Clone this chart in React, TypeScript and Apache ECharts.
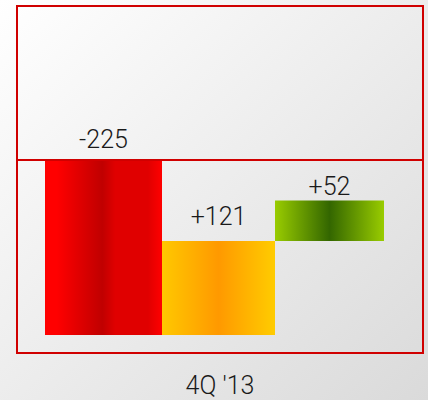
import React, { useEffect, useRef } from "react";
import * as echarts from "echarts";

const categories = ["4Q '13"];
const startLevel = 225;
const changes = [-225, 121, 52];
const changeLabels = ["-225", "+121", "+52"];

const FONT = "Roboto, 'Liberation Sans', sans-serif";

function grad(c0: string, c1: string, c2: string, c3?: string) {
  const stops = c3
    ? [
        { offset: 0, color: c0 },
        { offset: 0.1, color: c0 },
        { offset: 0.49, color: c1 },
        { offset: 0.6, color: c2 },
        { offset: 0.88, color: c2 },
        { offset: 1, color: c3 },
      ]
    : [
        { offset: 0, color: c0 },
        { offset: 0.5, color: c1 },
        { offset: 1, color: c2 },
      ];
  return new echarts.graphic.LinearGradient(0, 0, 1, 0, stops);
}

export default function App() {
  const ref = useRef<HTMLDivElement>(null);
  useEffect(() => {
    if (!ref.current) return;
    const chart = echarts.init(ref.current, undefined, { renderer: "svg" });

    let level = startLevel;
    const bases: number[] = [];
    const heights: number[] = [];
    changes.forEach((c) => {
      const next = level + c;
      bases.push(Math.min(level, next));
      heights.push(Math.abs(c));
      level = next;
    });

    const colors = [
      grad("#ff0000", "#c00000", "#e00000", "#ff0000"),
      grad("#ffc800", "#ff9900", "#ffcc00"),
      grad("#99cc00", "#336600", "#99cc00"),
    ];
    const widths = [117, 113, 109];
    const labelDist = [8, 12, 2];

    const series: any[] = [];
    changes.forEach((_, i) => {
      series.push({
        type: "bar",
        stack: "s" + i,
        barWidth: widths[i],
        barGap: "0%",
        data: [bases[i]],
        itemStyle: { color: "rgba(0,0,0,0)" },
        silent: true,
      });
      const s: any = {
        type: "bar",
        stack: "s" + i,
        barWidth: widths[i],
        barGap: "0%",
        data: [heights[i]],
        itemStyle: { color: colors[i] },
        label: {
          show: true,
          position: "top",
          distance: labelDist[i],
          formatter: () => changeLabels[i],
          fontFamily: FONT,
          fontWeight: 300,
          fontSize: 25,
          color: "#1a1a1a",
        },
      };
      if (i === 0) {
        s.markLine = {
          silent: true,
          symbol: "none",
          label: { show: false },
          lineStyle: { color: "#d00000", width: 2, type: "solid" },
          data: [{ yAxis: startLevel }],
        };
      }
      series.push(s);
    });
    // spacer column to offset the group
    series.push({
      type: "bar",
      stack: "spacer",
      barWidth: 11,
      barGap: "0%",
      data: [0],
      itemStyle: { color: "rgba(0,0,0,0)" },
      silent: true,
    });

    chart.setOption({
      animation: false,
      backgroundColor: new echarts.graphic.LinearGradient(0, 0, 1, 1, [
        { offset: 0, color: "#ffffff" },
        { offset: 1, color: "#dadada" },
      ]),
      grid: {
        left: 17,
        right: 5,
        top: 6,
        bottom: 47,
        show: true,
        borderColor: "#d00000",
        borderWidth: 2,
        backgroundColor: "transparent",
      },
      xAxis: {
        type: "category",
        data: categories,
        axisLine: { show: false },
        axisTick: { show: false },
        axisLabel: {
          fontFamily: FONT,
          fontWeight: 300,
          fontSize: 25,
          color: "#1a1a1a",
          margin: 20,
        },
      },
      yAxis: {
        type: "value",
        min: -23,
        max: 423,
        show: false,
        splitLine: { show: false },
      },
      series,
    });
    return () => chart.dispose();
  }, []);
  return (
    <div
      ref={ref}
      style={{ position: "absolute", left: 0, top: 0, width: 428, height: 400 }}
    />
  );
}
